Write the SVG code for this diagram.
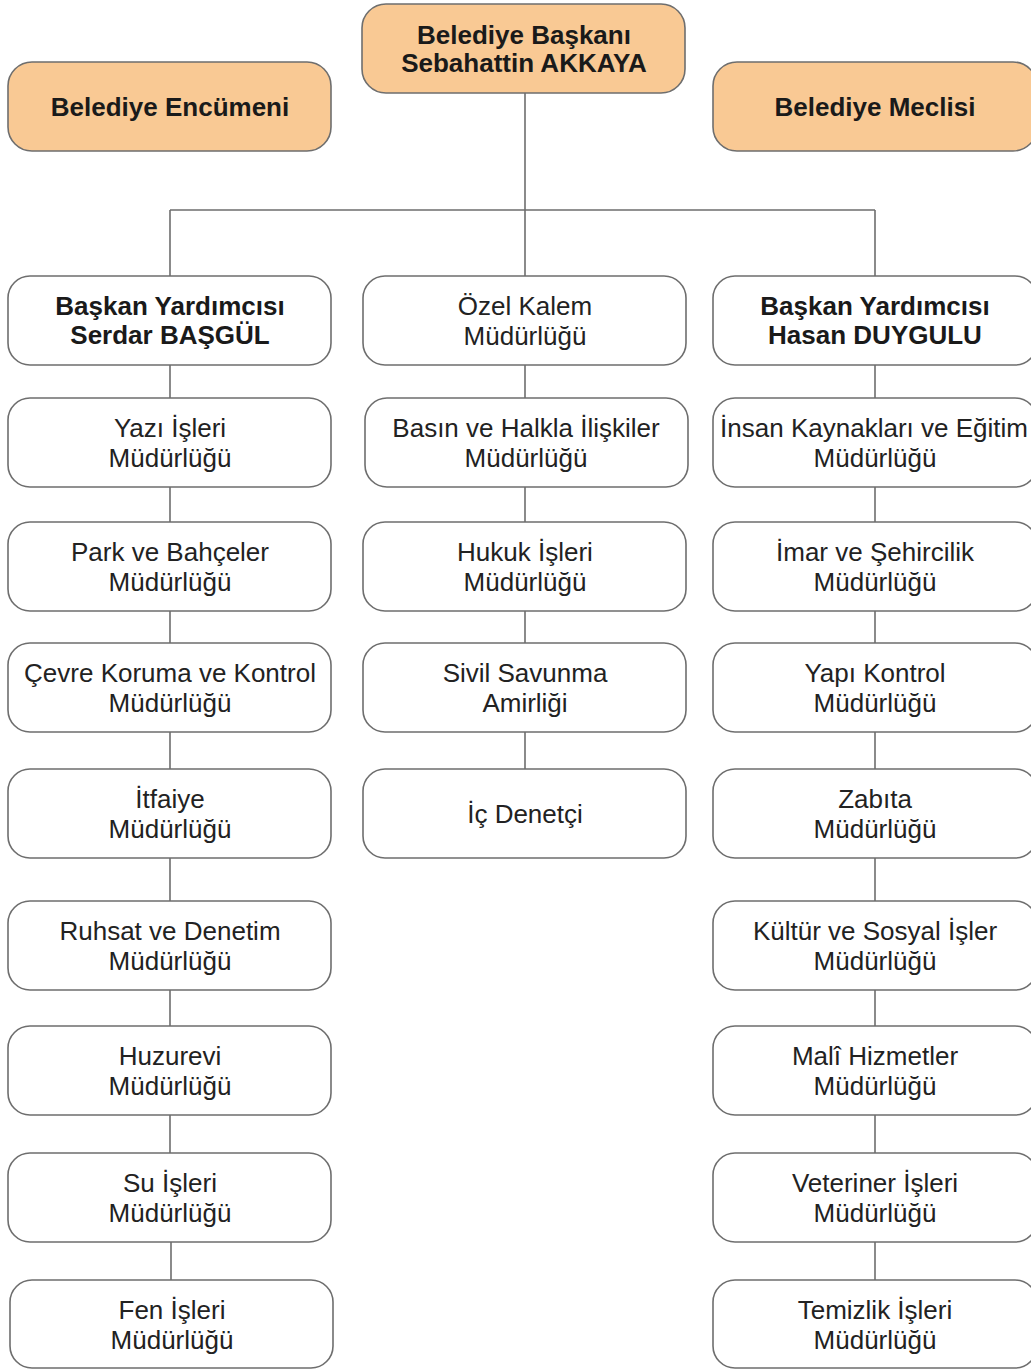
<svg xmlns="http://www.w3.org/2000/svg" width="1031" height="1370" viewBox="0 0 1031 1370">
<style>
.box{fill:#ffffff;stroke:#6e6e6e;stroke-width:1.6}
.org{fill:#F9C994;stroke:#6e6e6e;stroke-width:1.6}
.t{font-family:"Liberation Sans",Arial,sans-serif;font-size:26px;fill:#222;text-anchor:middle}
.b{font-weight:bold;fill:#1a1a1a}
.ln{stroke:#6e6e6e;stroke-width:1.6;fill:none}
</style>
<rect width="1031" height="1370" fill="#ffffff"/>
<g id="connectors">
<path class="ln" d="M525 93 V276 M170 210 H875 M170 210 V276 M875 210 V276"/>
<path class="ln" d="M170 365 V398 M170 487 V522 M170 611 V643 M170 732 V769 M170 858 V901 M170 990 V1026 M170 1115 V1153 M171 1242 V1280"/>
<path class="ln" d="M525 365 V398 M525 487 V522 M525 611 V643 M525 732 V769"/>
<path class="ln" d="M875 365 V398 M875 487 V522 M875 611 V643 M875 732 V769 M875 858 V901 M875 990 V1026 M875 1115 V1153 M875 1242 V1280"/>
</g>
<g id="n-baskan"><rect class="org" x="362" y="4" width="323" height="89" rx="24"/><text class="t b"><tspan x="524" y="44">Belediye Başkanı</tspan><tspan x="524" y="72">Sebahattin AKKAYA</tspan></text></g>
<g id="n-encumen"><rect class="org" x="8" y="62" width="323" height="89" rx="24"/><text class="t b" x="170" y="116">Belediye Encümeni</text></g>
<g id="n-meclis"><rect class="org" x="713" y="62" width="324" height="89" rx="24"/><text class="t b" x="875" y="116">Belediye Meclisi</text></g>

<g id="n-l1"><rect class="box" x="8" y="276" width="323" height="89" rx="22"/><text class="t b"><tspan x="170" y="315">Başkan Yardımcısı</tspan><tspan x="170" y="344">Serdar BAŞGÜL</tspan></text></g>
<g id="n-l2"><rect class="box" x="8" y="398" width="323" height="89" rx="22"/><text class="t"><tspan x="170" y="437">Yazı İşleri</tspan><tspan x="170" y="467">Müdürlüğü</tspan></text></g>
<g id="n-l3"><rect class="box" x="8" y="522" width="323" height="89" rx="22"/><text class="t"><tspan x="170" y="561">Park ve Bahçeler</tspan><tspan x="170" y="591">Müdürlüğü</tspan></text></g>
<g id="n-l4"><rect class="box" x="8" y="643" width="323" height="89" rx="22"/><text class="t"><tspan x="170" y="682">Çevre Koruma ve Kontrol</tspan><tspan x="170" y="712">Müdürlüğü</tspan></text></g>
<g id="n-l5"><rect class="box" x="8" y="769" width="323" height="89" rx="22"/><text class="t"><tspan x="170" y="808">İtfaiye</tspan><tspan x="170" y="838">Müdürlüğü</tspan></text></g>
<g id="n-l6"><rect class="box" x="8" y="901" width="323" height="89" rx="22"/><text class="t"><tspan x="170" y="940">Ruhsat ve Denetim</tspan><tspan x="170" y="970">Müdürlüğü</tspan></text></g>
<g id="n-l7"><rect class="box" x="8" y="1026" width="323" height="89" rx="22"/><text class="t"><tspan x="170" y="1065">Huzurevi</tspan><tspan x="170" y="1095">Müdürlüğü</tspan></text></g>
<g id="n-l8"><rect class="box" x="8" y="1153" width="323" height="89" rx="22"/><text class="t"><tspan x="170" y="1192">Su İşleri</tspan><tspan x="170" y="1222">Müdürlüğü</tspan></text></g>
<g id="n-l9"><rect class="box" x="10" y="1280" width="323" height="88" rx="22"/><text class="t"><tspan x="172" y="1319">Fen İşleri</tspan><tspan x="172" y="1349">Müdürlüğü</tspan></text></g>

<g id="n-m1"><rect class="box" x="363" y="276" width="323" height="89" rx="22"/><text class="t"><tspan x="525" y="315">Özel Kalem</tspan><tspan x="525" y="345">Müdürlüğü</tspan></text></g>
<g id="n-m2"><rect class="box" x="365" y="398" width="323" height="89" rx="22"/><text class="t"><tspan x="526" y="437">Basın ve Halkla İlişkiler</tspan><tspan x="526" y="467">Müdürlüğü</tspan></text></g>
<g id="n-m3"><rect class="box" x="363" y="522" width="323" height="89" rx="22"/><text class="t"><tspan x="525" y="561">Hukuk İşleri</tspan><tspan x="525" y="591">Müdürlüğü</tspan></text></g>
<g id="n-m4"><rect class="box" x="363" y="643" width="323" height="89" rx="22"/><text class="t"><tspan x="525" y="682">Sivil Savunma</tspan><tspan x="525" y="712">Amirliği</tspan></text></g>
<g id="n-m5"><rect class="box" x="363" y="769" width="323" height="89" rx="22"/><text class="t" x="525" y="823">İç Denetçi</text></g>

<g id="n-r1"><rect class="box" x="713" y="276" width="324" height="89" rx="22"/><text class="t b"><tspan x="875" y="315">Başkan Yardımcısı</tspan><tspan x="875" y="344">Hasan DUYGULU</tspan></text></g>
<g id="n-r2"><rect class="box" x="713" y="398" width="324" height="89" rx="22"/><text class="t"><tspan x="874" y="437">İnsan Kaynakları ve Eğitim</tspan><tspan x="875" y="467">Müdürlüğü</tspan></text></g>
<g id="n-r3"><rect class="box" x="713" y="522" width="324" height="89" rx="22"/><text class="t"><tspan x="875" y="561">İmar ve Şehircilik</tspan><tspan x="875" y="591">Müdürlüğü</tspan></text></g>
<g id="n-r4"><rect class="box" x="713" y="643" width="324" height="89" rx="22"/><text class="t"><tspan x="875" y="682">Yapı Kontrol</tspan><tspan x="875" y="712">Müdürlüğü</tspan></text></g>
<g id="n-r5"><rect class="box" x="713" y="769" width="324" height="89" rx="22"/><text class="t"><tspan x="875" y="808">Zabıta</tspan><tspan x="875" y="838">Müdürlüğü</tspan></text></g>
<g id="n-r6"><rect class="box" x="713" y="901" width="324" height="89" rx="22"/><text class="t"><tspan x="875" y="940">Kültür ve Sosyal İşler</tspan><tspan x="875" y="970">Müdürlüğü</tspan></text></g>
<g id="n-r7"><rect class="box" x="713" y="1026" width="324" height="89" rx="22"/><text class="t"><tspan x="875" y="1065">Malî Hizmetler</tspan><tspan x="875" y="1095">Müdürlüğü</tspan></text></g>
<g id="n-r8"><rect class="box" x="713" y="1153" width="324" height="89" rx="22"/><text class="t"><tspan x="875" y="1192">Veteriner İşleri</tspan><tspan x="875" y="1222">Müdürlüğü</tspan></text></g>
<g id="n-r9"><rect class="box" x="713" y="1280" width="324" height="88" rx="22"/><text class="t"><tspan x="875" y="1319">Temizlik İşleri</tspan><tspan x="875" y="1349">Müdürlüğü</tspan></text></g>
</svg>
